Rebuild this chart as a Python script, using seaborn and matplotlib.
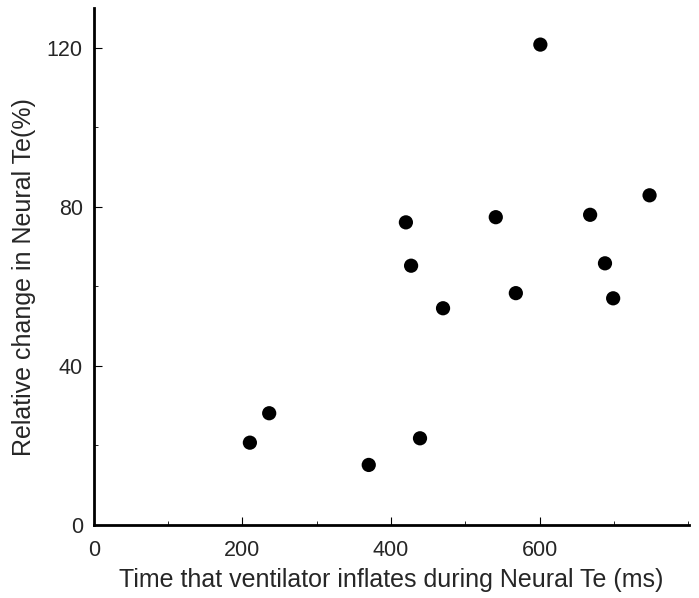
import matplotlib
matplotlib.use("Agg")
import matplotlib.pyplot as plt
import pandas as pd
import seaborn as sns
from matplotlib.ticker import MultipleLocator

# values
inflate_time_ms = [210, 236, 370, 439, 420, 427, 470, 541, 568, 601, 668, 688, 699, 748]
rel_change_pct = [20.7, 28.1, 15.1, 21.8, 76.1, 65.2, 54.5, 77.4, 58.3, 120.8, 78.0, 65.8, 57.0, 82.9]
x_ticks = [0, 200, 400, 600]
y_ticks = [0, 40, 80, 120]

df = pd.DataFrame({"time": inflate_time_ms, "change": rel_change_pct})

sns.set_style("ticks")
plt.rcParams["font.family"] = ["Liberation Sans", "DejaVu Sans"]

fig = plt.figure(figsize=(6.99, 5.98), dpi=100)
ax = fig.add_axes([0.1343, 0.1221, 0.8513, 0.8645])

sns.scatterplot(data=df, x="time", y="change", ax=ax, color="black",
                s=105, linewidth=0, edgecolor="none")

ax.set_xlim(0, 801)
ax.set_ylim(0, 130)
ax.set_xticks(x_ticks)
ax.set_yticks(y_ticks)
ax.xaxis.set_minor_locator(MultipleLocator(100))
ax.yaxis.set_minor_locator(MultipleLocator(20))
ax.tick_params(which="major", direction="in", length=6, width=0.8,
               labelsize=15.5, color="black")
ax.tick_params(which="minor", direction="in", length=3, width=0.6, color="black")
ax.tick_params(axis="x", which="major", pad=11)
ax.tick_params(axis="y", which="major", pad=8)

for side in ["top", "right"]:
    ax.spines[side].set_visible(False)
for side in ["left", "bottom"]:
    ax.spines[side].set_linewidth(2)
    ax.spines[side].set_color("black")

ax.set_xlabel("Time that ventilator inflates during Neural Te (ms)", fontsize=18, labelpad=5)
ax.set_ylabel("Relative change in Neural Te(%)", fontsize=18)
ax.yaxis.set_label_coords(-0.097, 0.48)

plt.savefig("out.png", dpi=100)
